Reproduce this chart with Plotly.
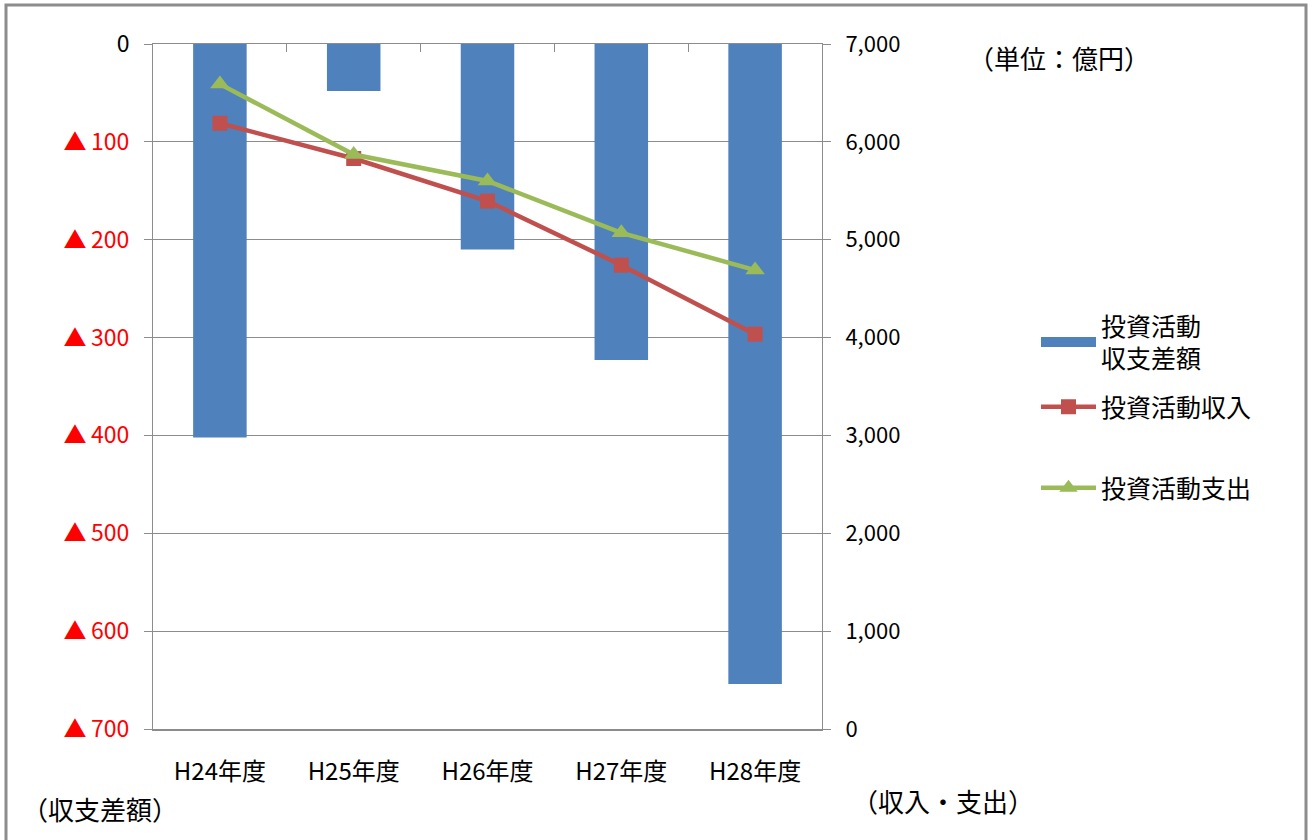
import plotly.graph_objects as go

categories = ["H24年度", "H25年度", "H26年度", "H27年度", "H28年度"]
balance = [-402, -48, -210, -323, -654]          # 投資活動収支差額 (left axis)
income = [6190, 5830, 5395, 4740, 4035]          # 投資活動収入 (right axis)
expense = [6590, 5870, 5600, 5070, 4690]         # 投資活動支出 (right axis)
left_ticks = [0, -100, -200, -300, -400, -500, -600, -700]
right_ticks = [0, 1000, 2000, 3000, 4000, 5000, 6000, 7000]

BLUE = "#4F81BD"
RED = "#C0504D"
GREEN = "#9BBB59"
FONT = "Noto Sans CJK JP"

L, R, T, B = 153, 492, 44, 111
W, H = 1314, 840
pw, ph = W - L - R, H - T - B

def px(x):
    return (x - L) / pw

def py(y):
    return (H - B - y) / ph

left_text = ["0" if v == 0 else "▲\u2009" + str(-v) for v in left_ticks]
left_text = ['<span style="color:black">0</span>' if t == "0" else t for t in left_text]

fig = go.Figure()
fig.add_trace(go.Bar(x=categories, y=balance, marker=dict(color=BLUE, line=dict(width=0)),
                     name="投資活動<br>収支差額", showlegend=False, yaxis="y", xaxis="x"))
# legend proxy for the bar (wide rectangle)
fig.add_trace(go.Scatter(x=[None], y=[None], mode="lines", line=dict(color=BLUE, width=11),
                         name="投資活動<br>収支差額", legend="legend", xaxis="x", yaxis="y"))
fig.add_trace(go.Scatter(x=categories, y=income, mode="lines+markers", name="投資活動収入",
                         line=dict(color=RED, width=4.5), marker=dict(symbol="square", size=15, color=RED),
                         yaxis="y2", xaxis="x", legend="legend2"))
fig.add_trace(go.Scatter(x=categories, y=expense, mode="lines+markers", name="投資活動支出",
                         line=dict(color=GREEN, width=4.5), marker=dict(symbol="triangle-up", size=17, color=GREEN),
                         yaxis="y2", xaxis="x", legend="legend3"))
# top category-separator axis (no data)
fig.add_trace(go.Scatter(x=[None], y=[None], xaxis="x2", yaxis="y", showlegend=False))

legend_common = dict(font=dict(family=FONT, size=25, color="#000000"), bgcolor="rgba(0,0,0,0)",
                     itemwidth=55, xanchor="left", yanchor="middle", tracegroupgap=0,
                     itemsizing="trace")

fig.update_layout(
    width=W, height=H,
    margin=dict(l=L, r=R, t=T, b=B, autoexpand=False),
    paper_bgcolor="white", plot_bgcolor="white",
    bargap=0.6,
    font=dict(family=FONT, size=20, color="#000000"),
    xaxis=dict(type="category", range=[-0.5, 4.5], showline=True, linecolor="#8c8c8c", linewidth=2,
               ticks="", showgrid=False, tickfont=dict(family=FONT, size=24, color="#000000"),
               ticklabelstandoff=20),
    xaxis2=dict(overlaying="x", side="top", range=[-0.5, 4.5], tickvals=[0.5, 1.5, 2.5, 3.5],
                ticks="inside", ticklen=8, tickcolor="#8c8c8c", showticklabels=False,
                showline=True, linecolor="#8c8c8c", linewidth=1, showgrid=False, zeroline=False),
    yaxis=dict(range=[-700, 0], tickvals=left_ticks, ticktext=left_text, ticks="outside", ticklen=8,
               tickcolor="#8c8c8c", showline=True, linecolor="#8c8c8c", linewidth=1,
               showgrid=True, gridcolor="#8c8c8c", gridwidth=1, zeroline=False,
               tickfont=dict(family=FONT, size=23, color="#FF0000"), ticklabelstandoff=10),
    yaxis2=dict(overlaying="y", side="right", range=[0, 7000], tickvals=right_ticks, tickformat=",",
                ticks="outside", ticklen=8, tickcolor="#8c8c8c", showline=True, linecolor="#8c8c8c",
                linewidth=1, showgrid=False, zeroline=False,
                tickfont=dict(family=FONT, size=22, color="#000000"), ticklabelstandoff=10),
    legend=dict(x=px(1036), y=py(342), **legend_common),
    legend2=dict(x=px(1036), y=py(407), **legend_common),
    legend3=dict(x=px(1036), y=py(488), **legend_common),
    shapes=[dict(type="rect", xref="paper", yref="paper", x0=px(6), x1=px(1306), y0=py(860), y1=py(5),
                 line=dict(color="#8c8c8c", width=3), fillcolor="rgba(0,0,0,0)", layer="below")],
    annotations=[
        dict(text="（単位：億円）", xref="paper", yref="paper", x=px(966), y=py(57), xanchor="left",
             yanchor="middle", showarrow=False, font=dict(family=FONT, size=26, color="#000000")),
        dict(text="（収支差額）", xref="paper", yref="paper", x=px(20), y=py(808), xanchor="left",
             yanchor="middle", showarrow=False, font=dict(family=FONT, size=26, color="#000000")),
        dict(text="（収入・支出）", xref="paper", yref="paper", x=px(850), y=py(800), xanchor="left",
             yanchor="middle", showarrow=False, font=dict(family=FONT, size=26, color="#000000")),
    ],
)

fig.write_html("out.html")
